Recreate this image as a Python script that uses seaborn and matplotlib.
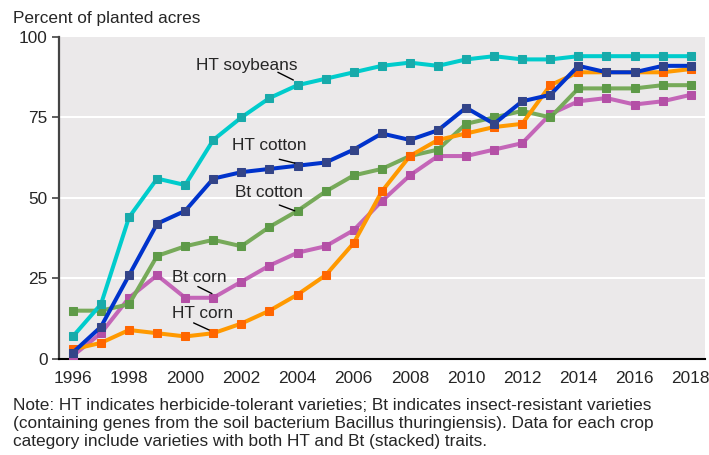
import pandas as pd
import matplotlib.pyplot as plt
import seaborn as sns

# Данные: доля посевных площадей под ГМ-культурами, %
years = list(range(1996, 2019))
ht_soybeans = [7, 17, 44, 56, 54, 68, 75, 81, 85, 87, 89, 91, 92, 91, 93, 94, 93, 93, 94, 94, 94, 94, 94]
ht_cotton = [2, 10, 26, 42, 46, 56, 58, 59, 60, 61, 65, 70, 68, 71, 78, 73, 80, 82, 91, 89, 89, 91, 91]
bt_cotton = [15, 15, 17, 32, 35, 37, 35, 41, 46, 52, 57, 59, 63, 65, 73, 75, 77, 75, 84, 84, 84, 85, 85]
bt_corn = [1, 8, 19, 26, 19, 19, 24, 29, 33, 35, 40, 49, 57, 63, 63, 65, 67, 76, 80, 81, 79, 80, 82]
ht_corn = [3, 5, 9, 8, 7, 8, 11, 15, 20, 26, 36, 52, 63, 68, 70, 72, 73, 85, 89, 89, 89, 89, 90]

series = {
    'Bt corn': bt_corn,
    'Bt cotton': bt_cotton,
    'HT corn': ht_corn,
    'HT cotton': ht_cotton,
    'HT soybeans': ht_soybeans,
}
line_colors = {
    'HT soybeans': '#00cccc',
    'HT cotton': '#0033cc',
    'Bt cotton': '#77aa5a',
    'Bt corn': '#c466b8',
    'HT corn': '#ff9900',
}
marker_colors = {
    'HT soybeans': '#18aaaa',
    'HT cotton': '#334488',
    'Bt cotton': '#5e9a48',
    'Bt corn': '#b450a6',
    'HT corn': '#ff6600',
}

df = pd.concat([pd.DataFrame({'year': years, 'value': v, 'series': k}) for k, v in series.items()])

sns.set_theme(style='white')
plt.rcParams['font.family'] = ['Liberation Sans', 'DejaVu Sans']
fs = 12.4

fig = plt.figure(figsize=(7.09, 4.55), dpi=100)
ax = fig.add_axes([0.083, 0.211, 0.911, 0.708])
ax.set_facecolor('#ebe9ea')

for i, name in enumerate(series):
    sub = df[df['series'] == name]
    sns.lineplot(data=sub, x='year', y='value', ax=ax, color=line_colors[name],
                 linewidth=2.9, marker='s', markersize=6,
                 markerfacecolor=marker_colors[name], markeredgecolor=marker_colors[name],
                 zorder=3 + i, legend=False)

ax.set_xlim(1995.5, 2018.5)
ax.set_ylim(0, 100)
ax.set_xticks(range(1996, 2019, 2))
ax.set_yticks([0, 25, 50, 75, 100])
ax.set_xlabel('')
ax.set_ylabel('')
for y in [25, 50, 75]:
    ax.axhline(y, color='white', linewidth=1.5, zorder=1)

for s in ['top', 'right']:
    ax.spines[s].set_visible(False)
ax.spines['left'].set_color('#444444')
ax.spines['left'].set_linewidth(1.6)
ax.spines['bottom'].set_color('black')
ax.spines['bottom'].set_linewidth(1.5)
ax.tick_params(axis='y', left=True, length=5, width=1.2, color='#444444', labelsize=fs, pad=3)
ax.tick_params(axis='x', bottom=False, labelsize=fs, pad=3)

# Подписи серий с выносками
labels = [
    ('HT soybeans', (2002.2, 91.0), (2003.3, 89.0), (2003.85, 86.6)),
    ('HT cotton', (2003.0, 66.3), (2003.35, 62.0), (2003.9, 60.8)),
    ('Bt cotton', (2003.0, 51.8), (2003.35, 47.8), (2003.9, 46.0)),
    ('Bt corn', (2000.5, 25.2), (2000.45, 22.5), (2000.95, 20.3)),
    ('HT corn', (2000.6, 14.0), (2000.3, 11.2), (2000.85, 9.0)),
]
for text, tpos, p0, p1 in labels:
    ax.text(tpos[0], tpos[1], text, ha='center', va='center', fontsize=fs, zorder=10)
    ax.annotate('', xy=p1, xytext=p0,
                arrowprops=dict(arrowstyle='-', color='black', linewidth=1, shrinkA=0, shrinkB=0),
                zorder=10)

fig.text(0.018, 0.96, 'Percent of planted acres', fontsize=fs, va='center', ha='left')
note = ('Note: HT indicates herbicide-tolerant varieties; Bt indicates insect-resistant varieties\n'
        '(containing genes from the soil bacterium Bacillus thuringiensis). Data for each crop\n'
        'category include varieties with both HT and Bt (stacked) traits.')
fig.text(0.018, 0.126, note, fontsize=fs, va='top', ha='left', linespacing=1.25)

fig.savefig('out.png', dpi=100)
